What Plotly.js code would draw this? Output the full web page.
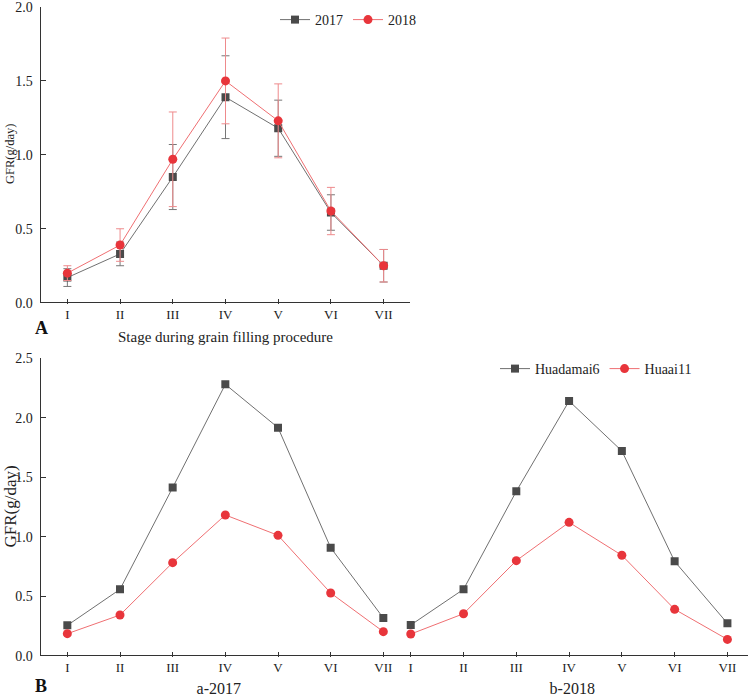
<!DOCTYPE html>
<html><head><meta charset="utf-8">
<script src="https://cdn.plot.ly/plotly-3.0.1.min.js"></script>
<style>body{margin:0;padding:0;background:#fff}#chart{width:748px;height:697px}</style>
</head><body><div id="chart"></div>
<script>
const stages = ['I','II','III','IV','V','VI','VII'];
const stageNum = [1,2,3,4,5,6,7];
// Panel A
const gfr2017 = [0.17,0.33,0.85,1.39,1.18,0.61,0.25];
const err2017 = [0.06,0.08,0.22,0.28,0.19,0.12,0.11];
const gfr2018 = [0.20,0.39,0.97,1.50,1.23,0.62,0.25];
const err2018 = [0.05,0.11,0.32,0.29,0.25,0.16,0.11];
// Panel B
const huadamai6_2017 = [0.255,0.558,1.413,2.281,1.917,0.908,0.317];
const huaai11_2017   = [0.185,0.342,0.782,1.183,1.012,0.527,0.202];
const huadamai6_2018 = [0.258,0.558,1.382,2.141,1.721,0.793,0.272];
const huaai11_2018   = [0.182,0.353,0.799,1.121,0.844,0.390,0.137];
const yTicksA = [0,0.5,1,1.5,2];
const yTickTextA = ['0.0','0.5','1.0','1.5','2.0'];

const GRAY='#4a4a4a', GRAYLINE='#707070', RED='#e8353b', REDLINE='#ef6f72';
const FONT='"Liberation Serif", serif';

function sq(x,y,xa,ya,name,legend,show,err){
  const t={x:x,y:y,xaxis:xa,yaxis:ya,name:name,type:'scatter',mode:'lines+markers',
    line:{color:GRAYLINE,width:1},marker:{symbol:'square',color:GRAY,size:8},
    showlegend:show,legend:legend};
  if(err) t.error_y={type:'data',array:err,visible:true,color:'#777',thickness:1,width:4};
  return t;
}
function ci(x,y,xa,ya,name,legend,show,err){
  const t={x:x,y:y,xaxis:xa,yaxis:ya,name:name,type:'scatter',mode:'lines+markers',
    line:{color:REDLINE,width:1},marker:{symbol:'circle',color:RED,size:9},
    showlegend:show,legend:legend};
  if(err) t.error_y={type:'data',array:err,visible:true,color:'#ee8a8c',thickness:1,width:4};
  return t;
}
const data=[
  sq(stageNum,gfr2017,'x','y','2017','legend',true,err2017),
  ci(stageNum,gfr2018,'x','y','2018','legend',true,err2018),
  sq(stageNum,huadamai6_2017,'x2','y2','Huadamai6','legend2',true),
  ci(stageNum,huaai11_2017,'x2','y2','Huaai11','legend2',true),
  sq(stageNum,huadamai6_2018,'x3','y2','Huadamai6','legend2',false),
  ci(stageNum,huaai11_2018,'x3','y2','Huaai11','legend2',false)
];
const W=748,H=697;
const yAxBase={showline:true,linecolor:'#333',linewidth:1.5,ticks:'inside',ticklen:5,tickwidth:1,tickcolor:'#333',
  showgrid:false,zeroline:true,zerolinecolor:'#333',zerolinewidth:1.5,ticklabeloverflow:'allow',ticklabelstandoff:4,
  tickfont:{family:FONT,size:14,color:'#222'}};
// x axes: drawn 5px above the baseline (the y zeroline) with outward ticks, so ticks point into the plot
const xAxBase={showline:false,ticks:'outside',ticklen:5,tickwidth:1,tickcolor:'#333',showgrid:false,zeroline:false,
  anchor:'free',tickvals:stageNum,ticktext:stages,tickfont:{family:FONT,size:13,color:'#222'}};
const baseA=302.7, baseB=655.7, topA=7, topB=358.3;
const layout={
  width:W,height:H,margin:{l:0,r:0,t:0,b:0},paper_bgcolor:'#fff',plot_bgcolor:'#fff',
  font:{family:FONT,color:'#222'},
  xaxis:Object.assign({},xAxBase,{domain:[41/W,410/W],range:[0.5,7.5],position:1-(baseA-5)/H,
    title:{text:'Stage during grain filling procedure',font:{family:FONT,size:15},standoff:10}}),
  yaxis:Object.assign({},yAxBase,{domain:[1-baseA/H,1-topA/H],range:[0,2.0],tickvals:yTicksA,ticktext:yTickTextA,anchor:'x'}),
  xaxis2:Object.assign({},xAxBase,{domain:[41/W,396.5/W],range:[0.5,7.25],position:1-(baseB-5)/H,
    title:{text:'a-2017',font:{family:FONT,size:16},standoff:12}}),
  xaxis3:Object.assign({},xAxBase,{domain:[396.5/W,1],range:[0.73,7.39],position:1-(baseB-5)/H,
    title:{text:'b-2018',font:{family:FONT,size:16},standoff:12}}),
  yaxis2:Object.assign({},yAxBase,{domain:[1-baseB/H,1-topB/H],range:[0,2.5],dtick:0.5,tickformat:'.1f',anchor:'x2'}),
  legend:{orientation:'h',x:421/W,xanchor:'right',y:1-4/H,yanchor:'top',bgcolor:'rgba(0,0,0,0)',
    font:{family:FONT,size:14},itemwidth:30,tracegroupgap:0},
  legend2:{orientation:'h',x:697/W,xanchor:'right',y:1-353/H,yanchor:'top',bgcolor:'rgba(0,0,0,0)',
    font:{family:FONT,size:14},itemwidth:30},
  annotations:[
    {text:'GFR(g/day)',textangle:-90,x:10/W,y:1-154/H,xref:'paper',yref:'paper',xanchor:'center',yanchor:'middle',showarrow:false,font:{family:FONT,size:12.5,color:'#222'}},
    {text:'GFR(g/day)',textangle:-90,x:9.5/W,y:1-507/H,xref:'paper',yref:'paper',xanchor:'center',yanchor:'middle',showarrow:false,font:{family:FONT,size:17,color:'#222'}},
    {text:'<b>A</b>',x:33/W,y:1-328/H,xref:'paper',yref:'paper',xanchor:'left',yanchor:'middle',showarrow:false,font:{family:FONT,size:18,color:'#111'}},
    {text:'<b>B</b>',x:33/W,y:1-686/H,xref:'paper',yref:'paper',xanchor:'left',yanchor:'middle',showarrow:false,font:{family:FONT,size:18,color:'#111'}}
  ]
};
Plotly.newPlot('chart',data,layout,{displayModeBar:false,staticPlot:true});
</script></body></html>
